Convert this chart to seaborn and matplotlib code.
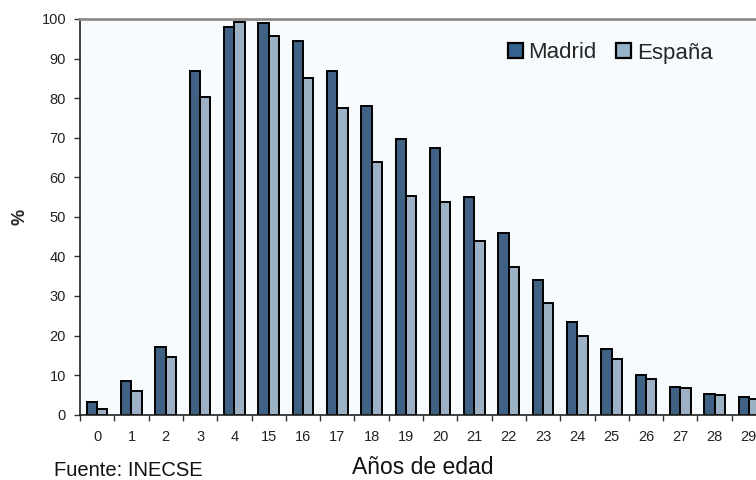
import pandas as pd
import matplotlib
matplotlib.use("Agg")
import matplotlib.pyplot as plt
from matplotlib.patches import Patch
from matplotlib.ticker import FixedLocator
import seaborn as sns

# Datos: tasa de escolarización por edad
edades = ["0", "1", "2", "3", "4", "15", "16", "17", "18", "19",
          "20", "21", "22", "23", "24", "25", "26", "27", "28", "29"]
madrid = [3.3, 8.5, 17.1, 86.8, 98.0, 99.1, 94.4, 86.9, 78.0, 69.8,
          67.5, 55.1, 45.8, 34.0, 23.5, 16.6, 10.1, 7.1, 5.2, 4.5]
espana = [1.4, 6.0, 14.7, 80.4, 99.2, 95.6, 85.2, 77.5, 63.9, 55.3,
          53.8, 43.9, 37.3, 28.2, 20.0, 14.0, 9.1, 6.7, 5.0, 3.9]
series = ["Madrid", "España"]
colores = ["#34628f", "#95b3cb"]

datos = pd.DataFrame({
    "edad": edades * 2,
    "valor": madrid + espana,
    "zona": [series[0]] * len(edades) + [series[1]] * len(edades),
})

sns.set_style("white")
plt.rcParams["font.family"] = ["Liberation Sans", "DejaVu Sans"]

fig = plt.figure(figsize=(7.56, 4.8), dpi=100)
ax = fig.add_axes([80 / 756, 65.3 / 480, 686 / 756, 395.7 / 480])
ax.set_facecolor("#f7fbfe")

sns.barplot(data=datos, x="edad", y="valor", hue="zona", order=edades,
            hue_order=series, palette=colores, width=0.6, gap=0,
            edgecolor="black", linewidth=1.4, legend=False, ax=ax)

ax.set_xlim(-0.5, len(edades) - 0.5)
ax.set_ylim(0, 100)
ax.set_yticks(range(0, 101, 10))

# marcas entre categorías, etiquetas centradas
ax.xaxis.set_minor_locator(FixedLocator([i - 0.5 for i in range(len(edades) + 1)]))
ax.tick_params(axis="x", which="major", length=0, pad=11, labelsize=10.5, colors="#222222")
ax.tick_params(axis="x", which="minor", length=4.5, width=1, color="#333333", bottom=True)
ax.tick_params(axis="y", length=4, width=1, color="#333333", pad=6, labelsize=10.5,
               labelcolor="#222222", left=True)

for lado in ["left", "bottom"]:
    ax.spines[lado].set_color("#222222")
    ax.spines[lado].set_linewidth(1.2)
ax.spines["top"].set_color("#8c8c8c")
ax.spines["top"].set_linewidth(2)
ax.spines["right"].set_color("#8c8c8c")

ax.set_ylabel("%", fontsize=13, fontweight="bold", rotation=90)
ax.yaxis.label.set_va("center")
ax.yaxis.set_label_coords(-0.0875, 0.5)

ax.set_xlabel("Años de edad", fontsize=16.5, color="#111111")
ax.xaxis.label.set_va("baseline")
ax.xaxis.set_label_coords(0.5, -0.151)

fig.text(54 / 756, 0.008, "Fuente: INECSE", fontsize=14.5, color="#111111",
         ha="left", va="baseline")

manejadores = [Patch(facecolor=c, edgecolor="black", linewidth=1.6) for c in colores]
ax.legend(manejadores, series, loc="center", bbox_to_anchor=(610 / 756, 1 - 53 / 480),
          bbox_transform=fig.transFigure, ncol=2, frameon=False, fontsize=16,
          handlelength=0.69, handleheight=0.69, handletextpad=0.25,
          columnspacing=0.86, borderpad=0)

fig.savefig("out.png", dpi=100)
